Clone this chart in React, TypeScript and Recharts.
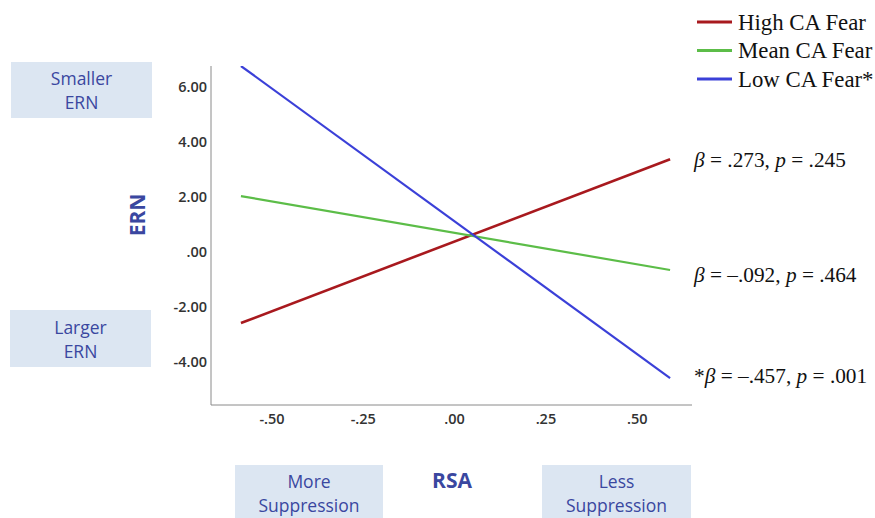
import React from 'react';
import { LineChart, Line, XAxis, YAxis, Legend, LabelList } from 'recharts';

// ---- data ----
const rsaValues = [-0.585, 0.59];
const highFear = [-2.6, 3.36];
const meanFear = [2.02, -0.67];
const lowFear = [6.75, -4.6];

const yTicks = [-4, -2, 0, 2, 4, 6];
const yTickLabels = ['-4.00', '-2.00', '.00', '2.00', '4.00', '6.00'];
const xTicks = [-0.5, -0.25, 0, 0.25, 0.5];
const xTickLabels = ['-.50', '-.25', '.00', '.25', '.50'];

const seriesKeys = ['high', 'mean', 'low'];
const seriesNames = ['High CA Fear', 'Mean CA Fear', 'Low CA Fear*'];
const seriesValues = [highFear, meanFear, lowFear];
const annotations = [
  [{ t: 'β', i: true }, { t: ' = .273, ' }, { t: 'p', i: true }, { t: ' = .245' }],
  [{ t: 'β', i: true }, { t: ' = –.092, ' }, { t: 'p', i: true }, { t: ' = .464' }],
  [{ t: '*' }, { t: 'β', i: true }, { t: ' = –.457, ' }, { t: 'p', i: true }, { t: ' = .001' }],
];

// ---- styles ----
const colors = ['#a8191e', '#5cbd48', '#3b40d8'];
const strokeWidths = [2.6, 2.2, 2.2];
const annDy = [1, 5, -2];
const labelBlue = '#3a47a0';
const boxFill = '#dce6f2';

const data = rsaValues.map((x, i) => {
  const row: any = { x };
  seriesKeys.forEach((k, s) => (row[k] = seriesValues[s][i]));
  return row;
});

const fmt = (ticks: number[], labels: string[]) => (v: number) => {
  const idx = ticks.findIndex((t) => Math.abs(t - v) < 1e-9);
  return idx >= 0 ? labels[idx] : String(v);
};

const makeAnnotation = (s: number) => (props: any) => {
  const { index } = props;
  if (index !== data.length - 1) return null;
  const px = props.viewBox?.x ?? props.x;
  const py = props.viewBox?.y ?? props.y;
  return (
    <text
      x={px + 24}
      y={py + annDy[s]}
      dominantBaseline="central"
      fontFamily="'Liberation Serif', 'Times New Roman', serif"
      fontSize={21.3}
      fill="#111"
    >
      {annotations[s].map((p: any, j: number) => (
        <tspan key={j} fontStyle={p.i ? 'italic' : 'normal'}>
          {p.t}
        </tspan>
      ))}
    </text>
  );
};

const LegendContent = () => (
  <svg width={178} height={92}>
    {seriesNames.map((n, i) => (
      <g key={n}>
        <line x1={0} x2={35} y1={13 + i * 28.5} y2={13 + i * 28.5} stroke={colors[i]} strokeWidth={3} />
        <text
          x={41}
          y={13 + i * 28.5}
          dominantBaseline="central"
          fontFamily="'Liberation Serif', 'Times New Roman', serif"
          fontSize={22.8}
          fill="#111"
        >
          {n}
        </text>
      </g>
    ))}
  </svg>
);

const boxStyle = (left: number, top: number, width: number, height: number): React.CSSProperties => ({
  position: 'absolute',
  left,
  top,
  width,
  height,
  background: boxFill,
  color: labelBlue,
  fontFamily: "'Open Sans', sans-serif",
  fontSize: 17.5,
  lineHeight: '24px',
  textAlign: 'center',
  display: 'flex',
  flexDirection: 'column',
  justifyContent: 'center',
});

export default function App() {
  return (
    <div style={{ position: 'absolute', left: 0, top: 0, width: 875, height: 518, background: '#fff', overflow: 'hidden' }}>
      <div style={boxStyle(11, 62, 141, 56)}>
        <div>Smaller</div>
        <div>ERN</div>
      </div>
      <div style={boxStyle(10, 310, 141, 57)}>
        <div>Larger</div>
        <div>ERN</div>
      </div>
      <div style={boxStyle(235, 465, 148, 56)}>
        <div>More</div>
        <div>Suppression</div>
      </div>
      <div style={boxStyle(542, 465, 149, 56)}>
        <div>Less</div>
        <div>Suppression</div>
      </div>
      <div
        style={{
          position: 'absolute',
          left: 452 - 40,
          top: 467,
          width: 80,
          textAlign: 'center',
          color: labelBlue,
          fontFamily: "'Open Sans', sans-serif",
          fontWeight: 700,
          fontSize: 21,
          lineHeight: '26px',
        }}
      >
        RSA
      </div>
      <div
        style={{
          position: 'absolute',
          left: 137 - 40,
          top: 215 - 13,
          width: 80,
          textAlign: 'center',
          color: labelBlue,
          fontFamily: "'Open Sans', sans-serif",
          fontWeight: 700,
          fontSize: 21,
          lineHeight: '26px',
          transform: 'rotate(-90deg)',
        }}
      >
        ERN
      </div>
      <div style={{ position: 'absolute', left: 0, top: 0 }}>
        <LineChart width={875} height={518} data={data} margin={{ top: 66, right: 183, bottom: 73, left: 161 }}>
          <XAxis
            dataKey="x"
            type="number"
            domain={[-0.667, 0.65]}
            ticks={xTicks}
            tickFormatter={fmt(xTicks, xTickLabels)}
            tickLine={false}
            tickSize={0}
            tickMargin={9}
            axisLine={{ stroke: '#8a8a8a', strokeWidth: 1 }}
            tick={{ fill: '#333', fontSize: 14.5, fontWeight: 600, fontFamily: "'Open Sans', sans-serif" }}
            height={40}
            allowDataOverflow
          />
          <YAxis
            type="number"
            domain={[-5.58, 6.75]}
            ticks={yTicks}
            tickFormatter={fmt(yTicks, yTickLabels)}
            tickLine={false}
            tickSize={0}
            tickMargin={4}
            axisLine={{ stroke: '#8a8a8a', strokeWidth: 1 }}
            tick={{ fill: '#333', fontSize: 14.5, fontWeight: 600, fontFamily: "'Open Sans', sans-serif" }}
            width={50}
            allowDataOverflow
          />
          <Legend
            layout="horizontal"
            verticalAlign="middle"
            align="center"
            content={<LegendContent />}
            wrapperStyle={{ position: 'absolute', left: 697, top: 9, width: 178, height: 92 }}
          />
          {seriesKeys.map((k, s) => (
            <Line
              key={k}
              dataKey={k}
              name={seriesNames[s]}
              stroke={colors[s]}
              strokeWidth={strokeWidths[s]}
              dot={false}
              activeDot={false}
              isAnimationActive={false}
            >
              <LabelList dataKey={k} content={makeAnnotation(s)} />
            </Line>
          ))}
        </LineChart>
      </div>
    </div>
  );
}
